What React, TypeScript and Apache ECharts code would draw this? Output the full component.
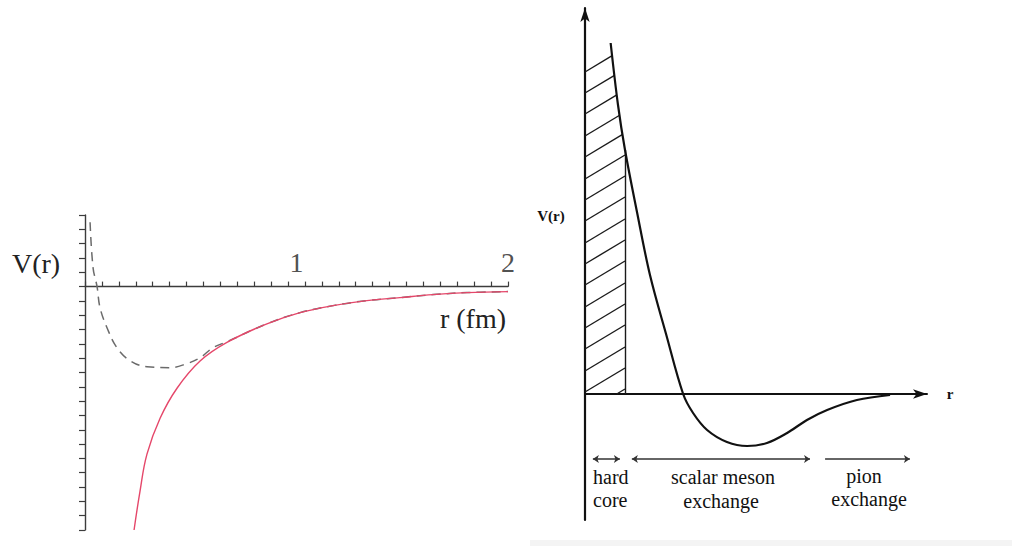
import React, { useEffect, useRef } from "react";
import * as echarts from "echarts";

// ---------- Left panel: nuclear potential (Yukawa vs. realistic) ----------
const yukawaR = [0.232, 0.26, 0.293, 0.355, 0.435, 0.544, 0.671, 0.86, 1.017, 1.173, 1.333, 1.489, 1.645, 1.806, 2.0];
const yukawaV = [-17, -14.3, -11.7, -9.2, -7.1, -5.2, -3.9, -2.6, -1.82, -1.33, -0.98, -0.77, -0.56, -0.42, -0.35];

const realR = [0.024, 0.038, 0.057, 0.071, 0.104, 0.151, 0.213, 0.293, 0.402, 0.482, 0.544, 0.605, 0.671, 0.86, 1.017, 1.173, 1.333, 1.489, 1.645, 1.806, 2.0];
const realV = [4.5, 1.33, 0, -1.47, -2.87, -4.27, -5.17, -5.6, -5.66, -5.38, -4.97, -4.27, -3.85, -2.6, -1.82, -1.33, -0.98, -0.77, -0.56, -0.42, -0.35];

const leftTickLabels = [1, 2];

// ---------- Right panel: schematic potential ----------
const curveR = [0.75, 0.965, 1.17, 1.52, 1.9, 2.37, 2.87, 3.16, 3.57, 4.15, 4.74, 5.32, 5.91, 6.49, 7.08, 7.95, 8.92];
const curveV = [3.51, 2.89, 2.44, 1.82, 1.19, 0.6, 0.0, -0.19, -0.36, -0.48, -0.52, -0.49, -0.39, -0.26, -0.16, -0.06, -0.01];

const coreR = 1.17; // hard-core radius
const hatchSlope = 0.205;
const hatchIntercepts = [3.22, 3.01, 2.8, 2.58, 2.37, 2.15, 1.94, 1.73, 1.51, 1.3, 1.09, 0.87, 0.66, 0.45, 0.23, 0.02, -0.19];

const arrowY = -0.65;
const doubleArrows = [
  [0.23, 1.02], // hard core
  [1.37, 6.58], // scalar meson exchange
];
const singleArrows = [[7.02, 9.5]]; // pion exchange

function curveAt(x: number): number {
  for (let i = 0; i < curveR.length - 1; i++) {
    if (x >= curveR[i] && x <= curveR[i + 1]) {
      const t = (x - curveR[i]) / (curveR[i + 1] - curveR[i]);
      return curveV[i] + t * (curveV[i + 1] - curveV[i]);
    }
  }
  return Infinity;
}

function hatchSegments() {
  const segs: { coords: number[][] }[] = [];
  for (const b of hatchIntercepts) {
    const line = (x: number) => b + hatchSlope * x;
    const start = b >= 0 ? [0, b] : [-b / hatchSlope, 0];
    let end: number[] | null = null;
    for (let i = 0; i < curveR.length - 1 && curveR[i] < coreR; i++) {
      const x0 = curveR[i];
      const x1 = Math.min(curveR[i + 1], coreR);
      const y0 = curveV[i];
      const y1 = curveAt(x1);
      const d0 = line(x0) - y0;
      const d1 = line(x1) - y1;
      if (d0 <= 0 && d1 >= 0) {
        const t = d0 / (d0 - d1);
        const x = x0 + t * (x1 - x0);
        end = [x, line(x)];
        break;
      }
    }
    if (!end) {
      end = [coreR, line(coreR)];
    }
    segs.push({ coords: [start, end] });
  }
  segs.push({ coords: [[coreR, 0], [coreR, curveAt(coreR)]] });
  return segs;
}

export default function App() {
  const ref = useRef<HTMLDivElement>(null);

  useEffect(() => {
    if (!ref.current) return;
    const chart = echarts.init(ref.current, undefined, { renderer: "svg" });
    const serif = "'Liberation Serif', 'Times New Roman', serif";
    const axisGrey = "#3c3c3c";

    chart.setOption({
      animation: false,
      backgroundColor: "#ffffff",
      grid: [
        { left: 85, top: 215, width: 423, height: 315 },
        { left: 585, top: 8, width: 342, height: 512 },
      ],
      xAxis: [
        {
          type: "value",
          gridIndex: 0,
          min: 0,
          max: 2,
          interval: 0.08,
          axisLine: { show: true, onZero: true, lineStyle: { color: axisGrey, width: 1.4 } },
          axisTick: { show: true, inside: true, length: 5, lineStyle: { color: axisGrey, width: 1.2 } },
          axisLabel: { show: false },
          splitLine: { show: false },
        },
        {
          type: "value",
          gridIndex: 1,
          min: 0,
          max: 10,
          axisLine: {
            show: true,
            onZero: true,
            symbol: ["none", "arrow"],
            symbolSize: [7, 14],
            lineStyle: { color: "#111", width: 2 },
          },
          axisTick: { show: false },
          axisLabel: { show: false },
          splitLine: { show: false },
        },
      ],
      yAxis: [
        {
          type: "value",
          gridIndex: 0,
          min: -17,
          max: 5,
          interval: 1,
          axisLine: { show: true, onZero: false, lineStyle: { color: axisGrey, width: 1.4 } },
          axisTick: { show: true, inside: false, length: 6, lineStyle: { color: axisGrey, width: 1.2 } },
          axisLabel: { show: false },
          splitLine: { show: false },
        },
        {
          type: "value",
          gridIndex: 1,
          min: -1.26,
          max: 3.86,
          axisLine: {
            show: true,
            onZero: false,
            symbol: ["none", "arrow"],
            symbolSize: [7, 14],
            lineStyle: { color: "#111", width: 2.2 },
          },
          axisTick: { show: false },
          axisLabel: { show: false },
          splitLine: { show: false },
        },
      ],
      series: [
        {
          type: "line",
          xAxisIndex: 0,
          yAxisIndex: 0,
          data: realR.map((r, i) => [r, realV[i]]),
          smooth: 0.4,
          symbol: "none",
          lineStyle: { color: "#6b6b6b", width: 1.5, type: [9, 6] },
          z: 2,
        },
        {
          type: "line",
          xAxisIndex: 0,
          yAxisIndex: 0,
          data: yukawaR.map((r, i) => [r, yukawaV[i]]),
          smooth: 0.4,
          symbol: "none",
          lineStyle: { color: "#e5476a", width: 1.4 },
          z: 3,
        },
        {
          type: "scatter",
          xAxisIndex: 0,
          yAxisIndex: 0,
          data: leftTickLabels.map((v) => [v, 0]),
          symbolSize: 0,
          label: {
            show: true,
            position: "top",
            distance: 10,
            formatter: (p: any) => String(p.value[0]),
            fontFamily: serif,
            fontSize: 28,
            color: "#222",
          },
          silent: true,
        },
        {
          type: "line",
          xAxisIndex: 1,
          yAxisIndex: 1,
          data: curveR.map((r, i) => [r, curveV[i]]),
          smooth: 0.35,
          symbol: "none",
          lineStyle: { color: "#111", width: 2.2 },
          z: 3,
        },
        {
          type: "lines",
          coordinateSystem: "cartesian2d",
          xAxisIndex: 1,
          yAxisIndex: 1,
          data: hatchSegments(),
          symbol: "none",
          lineStyle: { color: "#1a1a1a", width: 1.4, opacity: 1 },
          silent: true,
        },
        {
          type: "lines",
          coordinateSystem: "cartesian2d",
          xAxisIndex: 1,
          yAxisIndex: 1,
          data: doubleArrows.map(([a, b]) => ({ coords: [[a, arrowY], [b, arrowY]] })),
          symbol: ["arrow", "arrow"],
          symbolSize: 6,
          lineStyle: { color: "#333", width: 1.5, opacity: 1 },
          silent: true,
        },
        {
          type: "lines",
          coordinateSystem: "cartesian2d",
          xAxisIndex: 1,
          yAxisIndex: 1,
          data: singleArrows.map(([a, b]) => ({ coords: [[a, arrowY], [b, arrowY]] })),
          symbol: ["none", "arrow"],
          symbolSize: 6,
          lineStyle: { color: "#333", width: 1.5, opacity: 1 },
          silent: true,
        },
      ],
      graphic: [
        { type: "rect", shape: { x: 530, y: 540, width: 482, height: 6 }, style: { fill: "#f4f4f4" }, silent: true },
        { type: "text", x: 36, y: 263, style: { text: "V(r)", font: `28px ${serif}`, fill: "#222", textAlign: "center", textVerticalAlign: "middle" } },
        { type: "text", x: 473, y: 318, style: { text: "r (fm)", font: `28px ${serif}`, fill: "#222", textAlign: "center", textVerticalAlign: "middle" } },
        { type: "text", x: 551, y: 216, style: { text: "V(r)", font: `bold 15px ${serif}`, fill: "#111", textAlign: "center", textVerticalAlign: "middle" } },
        { type: "text", x: 950, y: 394, style: { text: "r", font: `bold 15px ${serif}`, fill: "#111", textAlign: "center", textVerticalAlign: "middle" } },
        { type: "text", x: 593, y: 477, style: { text: "hard", font: `20px ${serif}`, fill: "#111", textAlign: "left", textVerticalAlign: "middle" } },
        { type: "text", x: 593, y: 500, style: { text: "core", font: `20px ${serif}`, fill: "#111", textAlign: "left", textVerticalAlign: "middle" } },
        { type: "text", x: 723, y: 477, style: { text: "scalar meson", font: `20px ${serif}`, fill: "#111", textAlign: "center", textVerticalAlign: "middle" } },
        { type: "text", x: 721, y: 501, style: { text: "exchange", font: `20px ${serif}`, fill: "#111", textAlign: "center", textVerticalAlign: "middle" } },
        { type: "text", x: 864, y: 476, style: { text: "pion", font: `20px ${serif}`, fill: "#111", textAlign: "center", textVerticalAlign: "middle" } },
        { type: "text", x: 869, y: 499, style: { text: "exchange", font: `20px ${serif}`, fill: "#111", textAlign: "center", textVerticalAlign: "middle" } },
      ],
    });

    return () => chart.dispose();
  }, []);

  return (
    <div
      ref={ref}
      style={{ position: "fixed", left: 0, top: 0, width: 1012, height: 546, background: "#fff" }}
    />
  );
}
